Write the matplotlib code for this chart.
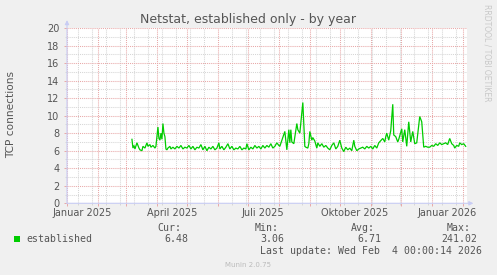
import numpy as np
import matplotlib
matplotlib.use("Agg")
import matplotlib.pyplot as plt
from matplotlib.patches import Rectangle
from matplotlib.transforms import blended_transform_factory

# ---------------- data ----------------
origin = np.datetime64("2025-01-01")
days = [65, 66, 67, 68, 70, 72, 73, 75, 76, 78, 80, 81, 83, 84, 86, 88, 89,
        91, 92, 93, 94, 95, 96, 97, 98, 99, 100, 101, 103, 104, 106, 108, 110,
        112, 114, 116, 118, 120, 122, 124, 126, 128, 130, 132, 134, 136, 138,
        140, 142, 144, 146, 148, 150, 152, 153, 155, 157, 159, 161, 163, 165,
        167, 169, 171, 173, 175, 177, 179, 180, 182, 184, 186, 188, 190, 192,
        194, 196, 198, 200, 202, 204, 206, 208, 210, 212, 213, 216, 218, 220,
        222, 223, 224, 225, 227, 230, 231, 233, 236, 238, 239, 241, 242, 243,
        245, 246, 248, 250, 251, 253, 255, 257, 259, 261, 263, 265, 267, 269,
        271, 273, 275, 277, 279, 281, 283, 285, 287, 288, 290, 292, 294, 296,
        298, 300, 302, 304, 306, 308, 310, 312, 316, 318, 319, 320, 322, 324,
        326, 327, 329, 331, 332, 335, 336, 338, 340, 342, 344, 346, 348, 350,
        353, 355, 357, 359, 361, 363, 365, 367, 369, 371, 373, 375, 377, 379,
        381, 383, 385, 387, 388, 390, 392, 393, 395, 397, 399]
conns = [7.3, 6.3, 6.6, 6.2, 6.9, 6.3, 6.1, 6.0, 6.5, 6.3, 6.9, 6.5, 6.7, 6.4, 6.6, 6.3, 6.5,
         8.7, 7.4, 7.2, 8.0, 7.3, 9.1, 8.0, 7.6, 6.2, 6.1, 6.3, 6.5, 6.2, 6.4, 6.2, 6.5,
         6.3, 6.6, 6.2, 6.4, 6.3, 6.6, 6.2, 6.5, 6.1, 6.4, 6.3, 6.7, 6.1, 6.5,
         6.0, 6.4, 6.2, 6.5, 6.1, 6.3, 6.9, 6.2, 6.5, 6.1, 6.4, 6.8, 6.2, 6.5,
         6.1, 6.3, 6.2, 6.5, 6.1, 6.3, 6.2, 6.8, 6.1, 6.4, 6.2, 6.6, 6.3, 6.5,
         6.2, 6.6, 6.3, 6.6, 6.4, 6.8, 6.3, 6.5, 6.9, 6.6, 6.5, 7.5, 8.2, 6.1,
         8.4, 6.9, 8.4, 7.0, 6.8, 9.1, 8.4, 8.0, 11.5, 6.5, 6.4, 6.3, 6.8, 8.2,
         7.2, 7.5, 7.1, 6.3, 6.9, 6.5, 6.8, 6.4, 6.6, 6.3, 6.1, 6.6, 6.9, 6.2,
         6.5, 7.2, 6.3, 5.9, 6.4, 6.1, 6.3, 6.0, 7.2, 6.5, 6.0, 6.2, 6.3, 6.4,
         6.2, 6.5, 6.3, 6.5, 6.2, 6.6, 6.3, 6.9, 7.4, 7.0, 7.6, 8.0, 7.2, 8.3,
         11.3, 7.8, 7.6, 7.0, 7.3, 8.5, 7.0, 8.4, 6.5, 9.3, 7.0, 8.2, 6.8, 6.9,
         9.9, 9.3, 6.4, 6.5, 6.4, 6.4, 6.6, 6.5, 6.8, 6.6, 6.9, 6.7, 6.8, 6.9,
         6.7, 7.4, 6.8, 6.6, 6.3, 6.6, 6.5, 6.9, 6.7, 6.8, 6.5]

label_months = ["2025-01", "2025-04", "2025-07", "2025-10", "2026-01"]
month_labels = ["Januar 2025", "April 2025", "Juli 2025", "Oktober 2025", "Januar 2026"]
yticks = list(range(0, 21, 2))
series_name = "established"
stat_names = ["Cur:", "Min:", "Avg:", "Max:"]
stat_values = ["6.48", "3.06", "6.71", "241.02"]
title = "Netstat, established only - by year"
ylabel = "TCP connections"
last_update = "Last update: Wed Feb  4 00:00:14 2026"

# ---------------- style ----------------
W, H = 497, 275
BACK = "#F0F0F0"
FONT = "#555555"
AXIS = "#C8CCF4"
MINOR = "#D6D6D6"
MAJOR = "#E8A8A8"
GREEN = "#00CC00"
MONO = "DejaVu Sans Mono"

def fx(x):
    return x / W

def fy(y):
    return 1 - y / H

fig = plt.figure(figsize=(W / 100, H / 100), dpi=100, facecolor=BACK)
ax = fig.add_axes([fx(67), fy(203.3), 400 / W, 175.3 / H])
ax.set_facecolor("white")

ax.set_xlim(0.3, 400.3)
ax.set_ylim(0, 20)

month_starts = np.arange(np.datetime64("2025-01"), np.datetime64("2026-03"))
major_x = (month_starts.astype("datetime64[D]") - origin).astype(int)
minor_x = (np.arange(np.datetime64("2025-01-12"), np.datetime64("2026-02-06"), 14) - origin).astype(int)

ax.set_xticks(major_x)
ax.set_xticks(minor_x, minor=True)
ax.set_xticklabels([])
ax.set_yticks(yticks)
ax.set_yticks(np.arange(0, 21, 1), minor=True)
ax.set_yticklabels([str(v) for v in yticks])

dots = (0, (1, 1))
ax.grid(which="minor", color=MINOR, linestyle=dots, linewidth=0.75)
ax.grid(which="major", color=MAJOR, linestyle=dots, linewidth=0.75)
ax.set_axisbelow(True)

ax.tick_params(axis="both", which="major", direction="out", length=2, width=0.7,
               color=MAJOR, labelcolor=FONT, labelsize=7, pad=3.5)
ax.tick_params(axis="both", which="minor", direction="out", length=1.5, width=0.7,
               color=MINOR)
for lab in ax.get_yticklabels():
    lab.set_fontfamily("DejaVu Sans")

for s in ax.spines.values():
    s.set_visible(False)

# axis lines with arrows
ax.annotate("", xy=(0, 1.045), xytext=(0, 0), xycoords="axes fraction",
            arrowprops=dict(arrowstyle="-|>", color=AXIS, lw=0.8, mutation_scale=6,
                            shrinkA=0, shrinkB=0), annotation_clip=False)
ax.annotate("", xy=(1.016, 0), xytext=(0, 0), xycoords="axes fraction",
            arrowprops=dict(arrowstyle="-|>", color=AXIS, lw=0.8, mutation_scale=6,
                            shrinkA=0, shrinkB=0), annotation_clip=False)

ax.plot(days, conns, color=GREEN, lw=0.9, solid_joinstyle="miter", zorder=3)

# x labels centred at mid-month
trans = blended_transform_factory(ax.transData, fig.transFigure)
label_x = (np.array(label_months, dtype="datetime64[M]").astype("datetime64[D]") - origin).astype(int) + 15
for x, lab in zip(label_x, month_labels):
    ax.text(x, fy(213.2), lab, transform=trans, ha="center", va="center",
            fontsize=7, color=FONT)

# titles
fig.text(fx(248), fy(19), title, ha="center", va="center", fontsize=9, color=FONT)
fig.text(fx(11), fy(115), ylabel, ha="center", va="center", rotation=90,
         fontsize=7.6, color=FONT)
fig.text(fx(487.5), fy(53), "RRDTOOL / TOBI OETIKER", ha="center", va="center",
         rotation=270, fontsize=5.5, color="#C8C8C8")

# legend area
fig.add_artist(Rectangle((fx(14), fy(242)), 6 / W, 6 / H, transform=fig.transFigure,
                         facecolor=GREEN, edgecolor="none"))
fig.text(fx(26), fy(239.5), series_name, ha="left", va="center", fontsize=7.1,
         family=MONO, color=FONT)
name_right = [181.5, 278.5, 374.5, 470.5]
val_right = [188, 284.5, 381, 477]
for n, v, xr, xv in zip(stat_names, stat_values, name_right, val_right):
    fig.text(fx(xr), fy(228), n, ha="right", va="center", fontsize=7.1, family=MONO, color=FONT)
    fig.text(fx(xv), fy(239.5), v, ha="right", va="center", fontsize=7.1, family=MONO, color=FONT)
fig.text(fx(482.5), fy(251.5), last_update, ha="right", va="center", fontsize=7.1,
         family=MONO, color=FONT)
fig.text(fx(248), fy(265), "Munin 2.0.75", ha="center", va="center", fontsize=5,
         color="#BBBBBB")

fig.savefig("out.png", dpi=100, facecolor=BACK)
